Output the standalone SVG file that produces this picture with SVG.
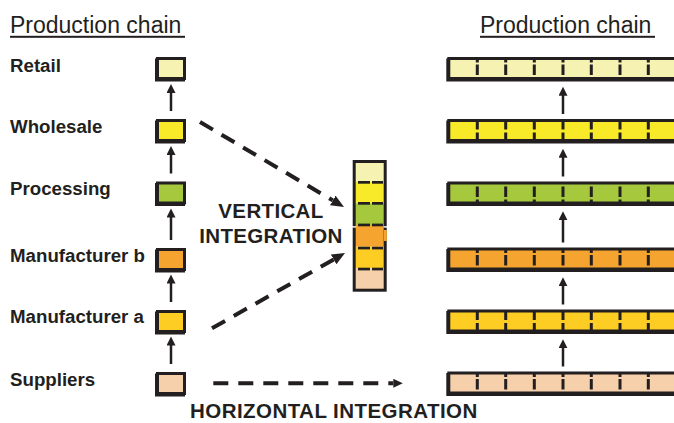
<svg xmlns="http://www.w3.org/2000/svg" xmlns:xlink="http://www.w3.org/1999/xlink" width="674" height="423" viewBox="0 0 674 423">
<style>
  text { font-family: "Liberation Sans", Arial, sans-serif; fill: #231f20; }
  .title { font-size: 23px; }
  .lbl { font-size: 18.7px; font-weight: bold; }
  .big { font-size: 20.5px; font-weight: bold; letter-spacing: 0.35px; }
  .box { stroke: #231f20; stroke-width: 3; }
  .shadow { fill: #231f20; }
  .up { stroke: #231f20; stroke-width: 2.5; fill: none; }
  .dash { stroke: #231f20; stroke-width: 4; fill: none; stroke-dasharray: 15 10; }
  .tick { fill: #231f20; }
  .c1 { fill: #f6f2b2; }
  .c2 { fill: #f8ea28; }
  .c3 { fill: #a6c83c; }
  .c4 { fill: #f4a42f; }
  .c5 { fill: #fdcd24; }
  .c6 { fill: #f6d0ab; }
</style>
<defs>
  <marker id="ah" markerUnits="userSpaceOnUse" markerWidth="10" markerHeight="9" refX="2" refY="4.5" orient="auto">
    <path d="M0,0 L9,4.5 L0,9 z" fill="#231f20"/>
  </marker>
  <marker id="dh" markerUnits="userSpaceOnUse" markerWidth="14" markerHeight="12" refX="0" refY="5.5" orient="auto">
    <path d="M0,0 L13,5.5 L0,11 z" fill="#231f20"/>
  </marker>
  <marker id="hh" markerUnits="userSpaceOnUse" markerWidth="10" markerHeight="10" refX="0" refY="4.5" orient="auto">
    <path d="M0,0 L9.5,4.5 L0,9 z" fill="#231f20"/>
  </marker>
  <g id="tickI" class="tick">
    <rect x="475.8" y="2.5" width="3" height="3"/><rect x="475.8" y="7.5" width="3" height="10.5"/>
    <rect x="504.2" y="2.5" width="3" height="3"/><rect x="504.2" y="7.5" width="3" height="10.5"/>
    <rect x="532.8" y="2.5" width="3" height="3"/><rect x="532.8" y="7.5" width="3" height="10.5"/>
    <rect x="561.5" y="2.5" width="3" height="3"/><rect x="561.5" y="7.5" width="3" height="10.5"/>
    <rect x="589.8" y="2.5" width="3" height="3"/><rect x="589.8" y="7.5" width="3" height="10.5"/>
    <rect x="618.5" y="2.5" width="3" height="3"/><rect x="618.5" y="7.5" width="3" height="10.5"/>
    <rect x="646.8" y="2.5" width="3" height="3"/><rect x="646.8" y="7.5" width="3" height="10.5"/>
  </g>
  <g id="tickP" class="tick">
    <rect x="475.8" y="5" width="3" height="10.5"/><rect x="475.8" y="18" width="3" height="3"/>
    <rect x="504.2" y="5" width="3" height="10.5"/><rect x="504.2" y="18" width="3" height="3"/>
    <rect x="532.8" y="5" width="3" height="10.5"/><rect x="532.8" y="18" width="3" height="3"/>
    <rect x="561.5" y="5" width="3" height="10.5"/><rect x="561.5" y="18" width="3" height="3"/>
    <rect x="589.8" y="5" width="3" height="10.5"/><rect x="589.8" y="18" width="3" height="3"/>
    <rect x="618.5" y="5" width="3" height="10.5"/><rect x="618.5" y="18" width="3" height="3"/>
    <rect x="646.8" y="5" width="3" height="10.5"/><rect x="646.8" y="18" width="3" height="3"/>
  </g>
  <g id="tickF" class="tick">
    <rect x="475.8" y="1.5" width="3" height="9"/><rect x="475.8" y="13.5" width="3" height="8"/>
    <rect x="504.2" y="1.5" width="3" height="9"/><rect x="504.2" y="13.5" width="3" height="8"/>
    <rect x="532.8" y="1.5" width="3" height="9"/><rect x="532.8" y="13.5" width="3" height="8"/>
    <rect x="561.5" y="1.5" width="3" height="9"/><rect x="561.5" y="13.5" width="3" height="8"/>
    <rect x="589.8" y="1.5" width="3" height="9"/><rect x="589.8" y="13.5" width="3" height="8"/>
    <rect x="618.5" y="1.5" width="3" height="9"/><rect x="618.5" y="13.5" width="3" height="8"/>
    <rect x="646.8" y="1.5" width="3" height="9"/><rect x="646.8" y="13.5" width="3" height="8"/>
  </g>
</defs>

<g id="titles">
  <text class="title" x="10" y="33.3">Production chain</text>
  <rect x="10" y="35.8" width="175" height="2" fill="#231f20"/>
  <text class="title" x="480" y="33.3">Production chain</text>
  <rect x="480" y="35.8" width="175" height="2" fill="#231f20"/>
</g>

<g id="labels">
  <text class="lbl" x="10" y="72.3">Retail</text>
  <text class="lbl" x="10" y="133.3">Wholesale</text>
  <text class="lbl" x="10" y="195">Processing</text>
  <text class="lbl" x="10" y="262.3">Manufacturer b</text>
  <text class="lbl" x="10" y="323.3">Manufacturer a</text>
  <text class="lbl" x="10" y="386">Suppliers</text>
</g>

<!-- left chain boxes -->
<g id="left-retail"><rect class="shadow" x="155" y="58.5" width="30" height="23"/><rect class="box c1" x="157.5" y="58.5" width="27" height="20"/></g>
<g id="left-wholesale"><rect class="shadow" x="155" y="120.5" width="30" height="23"/><rect class="box c2" x="157.5" y="120.5" width="27" height="20"/></g>
<g id="left-processing"><rect class="shadow" x="155" y="183" width="30" height="23"/><rect class="box c3" x="157.5" y="183" width="27" height="20"/></g>
<g id="left-manufacturer-b"><rect class="shadow" x="155" y="249.5" width="30" height="23"/><rect class="box c4" x="157.5" y="249.5" width="27" height="20"/></g>
<g id="left-manufacturer-a"><rect class="shadow" x="155" y="311.5" width="30" height="23"/><rect class="box c5" x="157.5" y="311.5" width="27" height="20"/></g>
<g id="left-suppliers"><rect class="shadow" x="155" y="373.5" width="30" height="23"/><rect class="box c6" x="157.5" y="373.5" width="27" height="20"/></g>

<!-- vertical integration column -->
<g id="vertical-stack">
  <rect class="c1" x="354" y="161.5" width="31.5" height="20.2"/>
  <rect class="c2" x="354" y="181.7" width="31.5" height="21.6"/>
  <rect class="c3" x="354" y="203.3" width="31.5" height="21.7"/>
  <rect class="c4" x="354" y="225" width="31.5" height="21.7"/>
  <rect class="c5" x="354" y="246.7" width="31.5" height="21.6"/>
  <rect class="c6" x="354" y="268.3" width="31.5" height="22"/>
  <rect x="354.2" y="161.5" width="31" height="128.7" fill="none" stroke="#231f20" stroke-width="3"/>
  <rect x="352" y="226.2" width="4" height="1.4" fill="#ffffff"/>
  <rect x="383.6" y="226.2" width="4" height="1.4" fill="#ffffff"/>
  <rect class="c4" x="384" y="230" width="2.8" height="11"/>
  <g class="tick">
    <rect x="358" y="181" width="12" height="2.7"/><rect x="372" y="181" width="11" height="2.7"/>
    <rect x="358" y="202" width="12" height="2.7"/><rect x="372" y="202" width="11" height="2.7"/>
    <rect x="358" y="223.6" width="12" height="2.7"/><rect x="372" y="223.6" width="11" height="2.7"/>
    <rect x="358" y="246.7" width="12" height="2.7"/><rect x="372" y="246.7" width="11" height="2.7"/>
    <rect x="358" y="267.7" width="12" height="2.7"/><rect x="372" y="267.7" width="11" height="2.7"/>
  </g>
</g>

<!-- right chain bars -->
<g id="right-retail"><rect class="shadow" x="446.3" y="58.5" width="240" height="23"/><rect class="box c1" x="448.8" y="58.5" width="240" height="20"/><use xlink:href="#tickI" y="57"/></g>
<g id="right-wholesale"><rect class="shadow" x="446.3" y="120.5" width="240" height="23"/><rect class="box c2" x="448.8" y="120.5" width="240" height="20"/><use xlink:href="#tickF" y="119"/></g>
<g id="right-processing"><rect class="shadow" x="446.3" y="183" width="240" height="23"/><rect class="box c3" x="448.8" y="183" width="240" height="20"/><use xlink:href="#tickP" y="181.5"/></g>
<g id="right-manufacturer-b"><rect class="shadow" x="446.3" y="249" width="240" height="23"/><rect class="box c4" x="448.8" y="249" width="240" height="20"/><use xlink:href="#tickI" y="247.5"/></g>
<g id="right-manufacturer-a"><rect class="shadow" x="446.3" y="311" width="240" height="23"/><rect class="box c5" x="448.8" y="311" width="240" height="20"/><use xlink:href="#tickF" y="309.5"/></g>
<g id="right-suppliers"><rect class="shadow" x="446.3" y="373" width="240" height="23"/><rect class="box c6" x="448.8" y="373" width="240" height="20"/><use xlink:href="#tickI" y="371.5"/></g>

<g id="integration-labels">
  <text class="big" x="271" y="218.3" text-anchor="middle">VERTICAL</text>
  <text class="big" x="271" y="243.3" text-anchor="middle">INTEGRATION</text>
  <text class="big" x="190" y="418" style="letter-spacing:0.45px">HORIZONTAL INTEGRATION</text>
</g>

<g id="connectors">
  <line class="up" x1="171" y1="111" x2="171" y2="91" marker-end="url(#ah)"/>
  <line class="up" x1="171" y1="173.5" x2="171" y2="153" marker-end="url(#ah)"/>
  <line class="up" x1="171" y1="240" x2="171" y2="215.5" marker-end="url(#ah)"/>
  <line class="up" x1="171" y1="302" x2="171" y2="281.5" marker-end="url(#ah)"/>
  <line class="up" x1="171" y1="364" x2="171" y2="343.5" marker-end="url(#ah)"/>

  <line class="up" x1="563" y1="114" x2="563" y2="93.7" marker-end="url(#ah)"/>
  <line class="up" x1="563" y1="176.5" x2="563" y2="155.7" marker-end="url(#ah)"/>
  <line class="up" x1="563" y1="242.5" x2="563" y2="218.2" marker-end="url(#ah)"/>
  <line class="up" x1="563" y1="304.5" x2="563" y2="284.2" marker-end="url(#ah)"/>
  <line class="up" x1="563" y1="366.5" x2="563" y2="346.2" marker-end="url(#ah)"/>

  <line class="dash" x1="200" y1="122" x2="332.8" y2="200.4" marker-end="url(#dh)"/>
  <line class="dash" x1="212" y1="328.3" x2="333.7" y2="259.4" marker-end="url(#dh)"/>
  <line class="dash" x1="213.3" y1="383.3" x2="393.3" y2="383.3" marker-end="url(#hh)"/>
</g>
</svg>
